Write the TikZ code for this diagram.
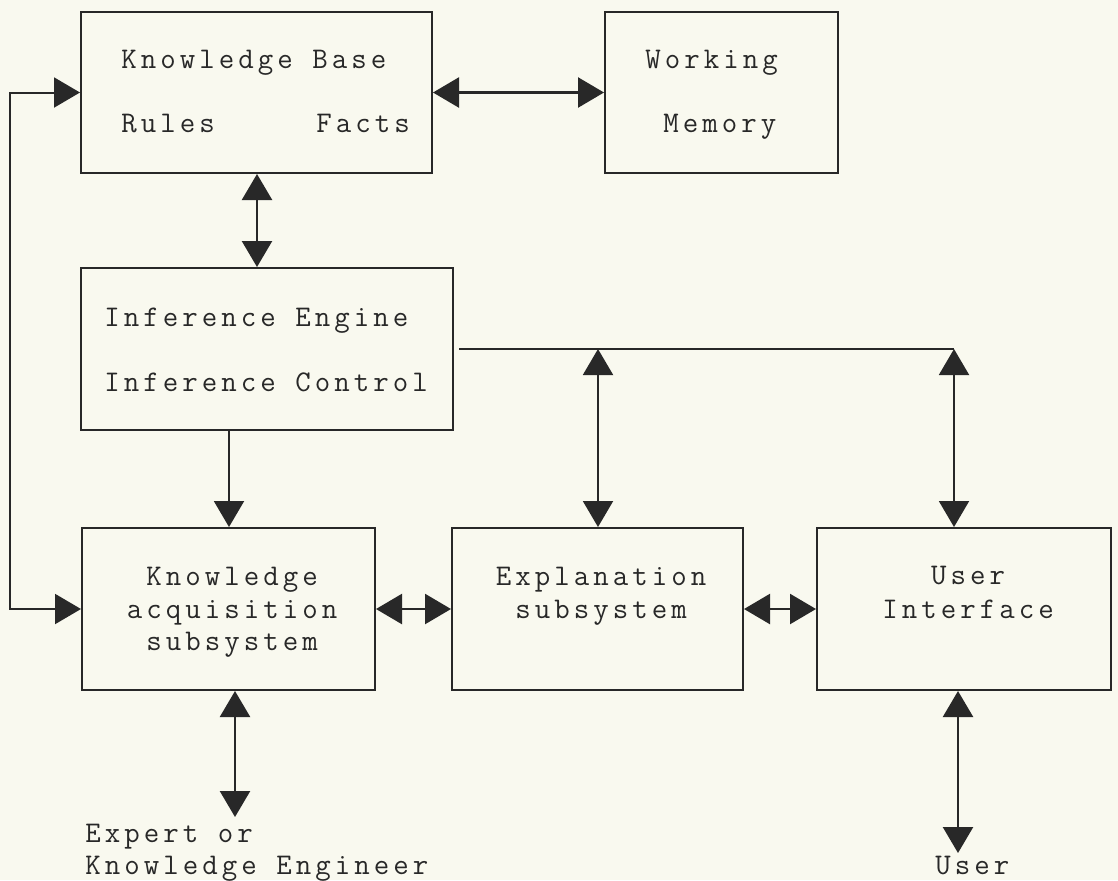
\documentclass[tikz,border=0pt]{standalone}
\usepackage{fontspec}
\newfontfamily\tw{Latin Modern Mono}[LetterSpace=13.5]
\usetikzlibrary{arrows.meta,fit}
\definecolor{ink}{RGB}{40,40,40}
\definecolor{paper}{RGB}{249,249,239}
\tikzset{
  box/.style={draw=ink, line width=1pt, inner sep=0pt},
  lbl/.style={text=ink, inner sep=0pt, font=\tw\fontsize{15}{19}\selectfont},
  plain/.style={draw=ink, line width=1pt},
  dbl/.style={draw=ink, line width=1.2pt, {Triangle[length=13pt,width=15pt]}-{Triangle[length=13pt,width=15pt]}},
  sgl/.style={draw=ink, line width=1.2pt, -{Triangle[length=13pt,width=15pt]}}
}
\begin{document}
\begin{tikzpicture}[x=0.5pt,y=-0.5pt]
\fill[paper] (0,0) rectangle (1118,880);
\useasboundingbox (0,0) rectangle (1118,880);

% boxes
\node[box, fit={(81,12) (432,173)}] (kb) {};
\node[box, fit={(605,12) (838,173)}] (wm) {};
\node[box, fit={(81,268) (453,430)}] (ie) {};
\node[box, fit={(82,528) (375,690)}] (ka) {};
\node[box, fit={(452,528) (743,690)}] (ex) {};
\node[box, fit={(817,528) (1111,690)}] (ui) {};

% texts
\node[lbl, anchor=base west] (t1) at (121,68) {Knowledge Base};
\node[lbl, anchor=base west] (t2) at (121,132) {Rules};
\node[lbl, anchor=base west] (t3) at (316,132) {Facts};
\node[lbl, anchor=base west] (t4) at (645,68) {Working};
\node[lbl, anchor=base west] (t5) at (663,132) {Memory};
\node[lbl, anchor=base west] (t6) at (104,326) {Inference Engine};
\node[lbl, anchor=base west] (t7) at (104,391) {Inference Control};
\node[lbl, anchor=base] (t8) at (232,585) {Knowledge};
\node[lbl, anchor=base] (t9) at (232,618) {acquisition};
\node[lbl, anchor=base] (t10) at (232,650) {subsystem};
\node[lbl, anchor=base] (t11) at (601,585) {Explanation};
\node[lbl, anchor=base] (t12) at (601,618) {subsystem};
\node[lbl, anchor=base] (t13) at (968,584) {User};
\node[lbl, anchor=base] (t14) at (968,618) {Interface};
\node[lbl, anchor=base west] (t15) at (85,842) {Expert or};
\node[lbl, anchor=base west] (t16) at (85,874) {Knowledge Engineer};
\node[lbl, anchor=base west] (t17) at (935,874) {User};

% helper coordinates
\coordinate (xkbie) at (257,0);
\coordinate (xieka) at (229,0);
\coordinate (xloop) at (10,0);
\coordinate (j1) at (598,349);
\coordinate (j2) at (954,349);
\coordinate (eend) at (235,817);
\coordinate (uend) at (958,853);

% connectors
\draw[dbl] (kb.east) -- (wm.west);
\draw[dbl] (kb.south -| xkbie) -- (ie.north -| xkbie);
\draw[dbl, line width=1pt] (kb.west) -- (kb.west -| xloop) |- (ka.west);
\draw[sgl, line width=1pt] (ie.south -| xieka) -- (ka.north -| xieka);
\draw[plain, shorten <=2.5pt] (ie.east) -- (j2);
\draw[dbl, line width=1pt] (j1) -- (ex.north -| j1);
\draw[dbl, line width=1pt] (j2) -- (ui.north -| j2);
\draw[dbl] (ka.east) -- (ex.west);
\draw[dbl] (ex.east) -- (ui.west);
\draw[dbl] (ka.south -| eend) -- (eend);
\draw[dbl] (ui.south -| uend) -- (uend);
\end{tikzpicture}
\end{document}
